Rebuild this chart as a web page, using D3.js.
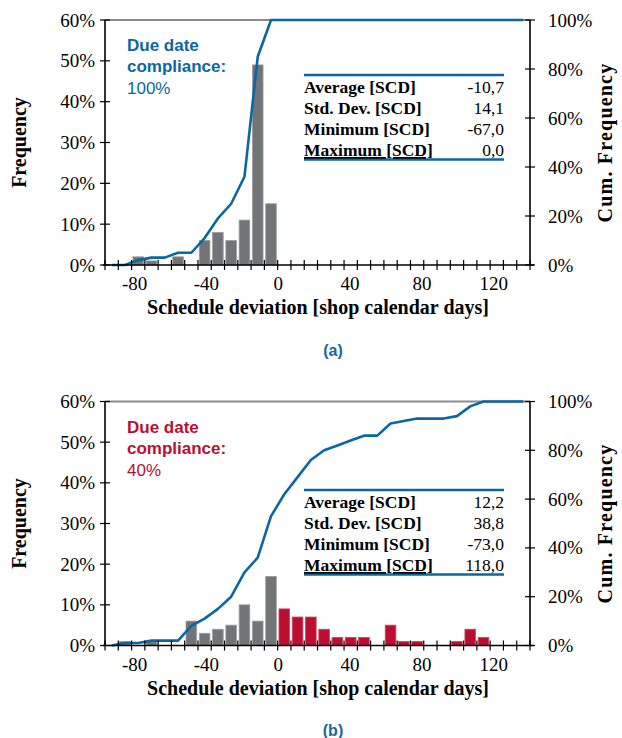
<!DOCTYPE html>
<html>
<head>
<meta charset="utf-8">
<script src="https://cdn.jsdelivr.net/npm/d3@7"></script>
<style>
  body { margin: 0; background: #fff; }
  svg { display: block; }
</style>
</head>
<body>
<svg width="622" height="738"></svg>
<script>
// 32 histogram classes along the deviation axis
const bins = d3.range(32);
const firstLateBin = 13;

// panel (a)
const freqA = [0, 0, 2, 1, 0, 2, 0, 6, 8, 6, 11, 49, 15, 0, 0, 0, 0, 0, 0, 0, 0, 0, 0, 0, 0, 0, 0, 0, 0, 0, 0, 0];
const cumA  = [0, 0, 2, 3, 3, 5, 5, 11, 19, 25, 36, 85, 100, 100, 100, 100, 100, 100, 100, 100, 100, 100, 100, 100, 100, 100, 100, 100, 100, 100, 100, 100];
const statsA = ["-10,7", "14,1", "-67,0", "0,0"];

// panel (b)
const freqB = [0, 1, 0, 1, 0, 0, 6, 3, 4, 5, 10, 6, 17, 9, 7, 7, 4, 2, 2, 2, 0, 5, 1, 1, 0, 0, 1, 4, 2, 0, 0, 0];
const cumB  = [0, 1, 1, 2, 2, 2, 8, 11, 15, 20, 30, 36, 53, 62, 69, 76, 80, 82, 84, 86, 86, 91, 92, 93, 93, 93, 94, 98, 100, 100, 100, 100];
const statsB = ["12,2", "38,8", "-73,0", "118,0"];

const statLabels = ["Average [SCD]", "Std. Dev. [SCD]", "Minimum [SCD]", "Maximum [SCD]"];
const xTickValues = [-80, -40, 0, 40, 80, 120];
const freqTicks = [0, 10, 20, 30, 40, 50, 60];
const cumTicks = [0, 20, 40, 60, 80, 100];

const blue = "#0a67a2";
const red = "#bb0f32";
const gray = "#727478";
const serif = "'Liberation Serif', 'Times New Roman', serif";
const sans = "'Liberation Sans', Arial, sans-serif";

const svg = d3.select("svg");
const left = 105, right = 530;

const xBand = d3.scaleBand().domain(bins).range([left, right]).paddingInner(0.2).paddingOuter(0.1);
const xEdge = d3.scaleLinear().domain([0, bins.length]).range([left, right]);
const xVal = d3.scaleLinear().domain([-96.5, 140.2]).range([left, right]);

function drawPanel(top, bottom, freq, cum, stats, compText, compColor, tTop, caption, captionY) {
    const g = svg.append("g");
    const y = d3.scaleLinear().domain([0, 60]).range([bottom, top]);
    const yc = d3.scaleLinear().domain([0, 100]).range([bottom, top]);

    // top frame line
    g.append("line")
        .attr("x1", left).attr("x2", right)
        .attr("y1", top).attr("y2", top)
        .attr("stroke", "#8c8c8c").attr("stroke-width", 2);

    // bars
    g.selectAll(".bar")
        .data(bins.filter(i => freq[i] > 0))
        .enter()
        .append("rect")
        .attr("x", i => xBand(i))
        .attr("width", xBand.bandwidth())
        .attr("y", i => y(freq[i]))
        .attr("height", i => bottom - y(freq[i]))
        .attr("fill", i => i >= firstLateBin ? red : gray)
        .attr("stroke", i => i >= firstLateBin ? "#c94a62" : "#9c9da0")
        .attr("stroke-width", 0.8);

    // cumulative line
    const line = d3.line()
        .x(i => xBand(i) + xBand.bandwidth() / 2)
        .y(i => yc(cum[i]));
    g.append("path")
        .attr("d", line(bins))
        .attr("fill", "none")
        .attr("stroke", blue)
        .attr("stroke-width", 2.6)
        .attr("stroke-linejoin", "round");

    // x axis with class boundaries as ticks
    g.append("line")
        .attr("x1", left - 2).attr("x2", right + 4)
        .attr("y1", bottom).attr("y2", bottom)
        .attr("stroke", "#000").attr("stroke-width", 1.6);
    g.selectAll(".xt")
        .data(d3.range(bins.length + 1))
        .enter()
        .append("line")
        .attr("x1", d => xEdge(d)).attr("x2", d => xEdge(d))
        .attr("y1", bottom - 5).attr("y2", bottom + 5)
        .attr("stroke", "#000").attr("stroke-width", 1.2);
    g.selectAll(".xl")
        .data(xTickValues)
        .enter()
        .append("text")
        .attr("x", d => xVal(d))
        .attr("y", bottom + 25)
        .attr("text-anchor", "middle")
        .attr("font-family", serif)
        .attr("font-size", 19)
        .text(d => d);
    g.append("text")
        .attr("x", 318).attr("y", bottom + 49)
        .attr("text-anchor", "middle")
        .attr("font-family", serif).attr("font-weight", "bold").attr("font-size", 20)
        .text("Schedule deviation [shop calendar days]");

    // left axis
    g.append("line")
        .attr("x1", left).attr("x2", left)
        .attr("y1", top).attr("y2", bottom)
        .attr("stroke", "#000").attr("stroke-width", 1.6);
    g.selectAll(".yt")
        .data(freqTicks)
        .enter()
        .append("line")
        .attr("x1", left - 5).attr("x2", left + 5)
        .attr("y1", d => y(d)).attr("y2", d => y(d))
        .attr("stroke", "#000").attr("stroke-width", 1.2);
    g.selectAll(".yl")
        .data(freqTicks)
        .enter()
        .append("text")
        .attr("x", left - 10)
        .attr("y", d => y(d) + 6.5)
        .attr("text-anchor", "end")
        .attr("font-family", serif).attr("font-size", 19)
        .text(d => d + "%");
    g.append("text")
        .attr("transform", `translate(26,${(top + bottom) / 2}) rotate(-90)`)
        .attr("text-anchor", "middle")
        .attr("font-family", serif).attr("font-weight", "bold").attr("font-size", 20)
        .text("Frequency");

    // right axis
    g.append("line")
        .attr("x1", right).attr("x2", right)
        .attr("y1", top).attr("y2", bottom)
        .attr("stroke", "#000").attr("stroke-width", 1.6);
    g.selectAll(".yct")
        .data(cumTicks)
        .enter()
        .append("line")
        .attr("x1", right - 5).attr("x2", right + 5)
        .attr("y1", d => yc(d)).attr("y2", d => yc(d))
        .attr("stroke", "#000").attr("stroke-width", 1.2);
    g.selectAll(".ycl")
        .data(cumTicks)
        .enter()
        .append("text")
        .attr("x", right + 18)
        .attr("y", d => yc(d) + 6.5)
        .attr("font-family", serif).attr("font-size", 19)
        .text(d => d + "%");
    g.append("text")
        .attr("transform", `translate(612,${(top + bottom) / 2}) rotate(-90)`)
        .attr("text-anchor", "middle")
        .attr("font-family", serif).attr("font-weight", "bold").attr("font-size", 20)
        .attr("letter-spacing", 1.2)
        .text("Cum. Frequency");

    // due date compliance note
    const note = g.append("text")
        .attr("font-family", sans).attr("font-size", 17).attr("fill", compColor);
    note.append("tspan").attr("x", 127).attr("y", top + 31).attr("font-weight", "bold").text("Due date");
    note.append("tspan").attr("x", 127).attr("y", top + 52).attr("font-weight", "bold").text("compliance:");
    note.append("tspan").attr("x", 127).attr("y", top + 74).text(compText);

    // statistics box
    const tL = 304, tR = 504;
    g.append("line").attr("x1", tL).attr("x2", tR).attr("y1", tTop).attr("y2", tTop)
        .attr("stroke", blue).attr("stroke-width", 2.4);
    g.append("line").attr("x1", tL).attr("x2", tR).attr("y1", tTop + 84.5).attr("y2", tTop + 84.5)
        .attr("stroke", blue).attr("stroke-width", 2.4);
    const rowY = [18.5, 39.5, 61, 82];
    statLabels.forEach((lab, i) => {
        g.append("text")
            .attr("x", tL).attr("y", tTop + rowY[i] - 1)
            .attr("font-family", serif).attr("font-weight", "bold").attr("font-size", 17.5)
            .attr("text-decoration", i === 3 ? "underline" : null)
            .text(lab);
        g.append("text")
            .attr("x", tR).attr("y", tTop + rowY[i] - 1)
            .attr("text-anchor", "end")
            .attr("font-family", serif).attr("font-size", 17.5)
            .text(stats[i]);
    });

    // caption
    g.append("text")
        .attr("x", 333).attr("y", captionY)
        .attr("text-anchor", "middle")
        .attr("font-family", sans).attr("font-weight", "bold").attr("font-size", 16)
        .attr("fill", "#1a66a0")
        .text(caption);
}

drawPanel(20, 265, freqA, cumA, statsA, "100%", blue, 75, "(a)", 356);
drawPanel(401.5, 645.5, freqB, cumB, statsB, "40%", red, 490, "(b)", 736);
</script>
</body>
</html>
